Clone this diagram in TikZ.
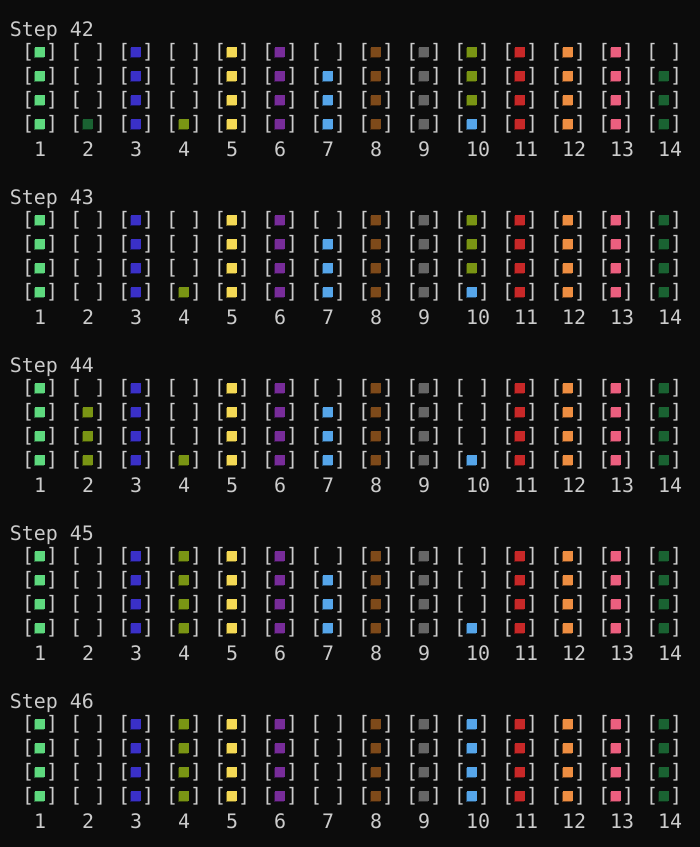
\documentclass[tikz,border=0pt]{standalone}
\usepackage{fontspec}
\newfontfamily\term{DejaVu Sans Mono}
\definecolor{bg}{HTML}{0C0C0C}
\definecolor{fg}{HTML}{CCCCCC}
\definecolor{tG}{HTML}{5ED97E}
\definecolor{tB}{HTML}{3A30C8}
\definecolor{tY}{HTML}{F4D955}
\definecolor{tP}{HTML}{782C9A}
\definecolor{tL}{HTML}{56A6EA}
\definecolor{tN}{HTML}{7E4A1A}
\definecolor{tA}{HTML}{666666}
\definecolor{tO}{HTML}{7A9514}
\definecolor{tR}{HTML}{C82828}
\definecolor{tE}{HTML}{EE8E42}
\definecolor{tK}{HTML}{EC5F7F}
\definecolor{tD}{HTML}{1A6232}
\tikzset{
  txt/.style={text=fg,font=\term\fontsize{14.95pt}{18pt}\selectfont,inner sep=0pt,outer sep=0pt,anchor=base west},
}
\def\xxempty{x}
\newcommand\tuberow[3]{%
  \pgfmathsetmacro\bl{36.5+24*(7*#1+#2)}%
  \foreach \c [count=\i from 0] in {#3} {%
    \node[txt] (L#1-#2-\i) at ({10+12*(1+4*\i)},{\bl-1.7}) {[};
    \node[txt] (R#1-#2-\i) at ({10+12*(3+4*\i)},{\bl-1.7}) {]};
    \edef\tmpc{\c}%
    \ifx\tmpc\xxempty\else
      \fill[t\c!45!black] ({10+12*(2+4*\i)},{\bl-13}) rectangle ++(10,10);
      \fill[t\c] ({11+12*(2+4*\i)},{\bl-14}) rectangle ++(10,10);
    \fi
  }%
}
\newcommand\stepblock[2]{%
  \node[txt] (T#1) at (10,{36.5+24*7*#1}) {Step #2};
  \foreach \n [count=\i from 0] in {1,...,14} {
    \node[txt] (N#1-\i) at ({10+12*(2+4*\i)},{36.5+24*(7*#1+5)}) {\n};
  }
}
\begin{document}
\begin{tikzpicture}[x=0.75pt,y=-0.75pt]
\path[fill=bg] (0,0) rectangle (700,847);
% Step 42
\stepblock{0}{42}
\tuberow{0}{1}{G,x,B,x,Y,P,x,N,A,O,R,E,K,x}
\tuberow{0}{2}{G,x,B,x,Y,P,L,N,A,O,R,E,K,D}
\tuberow{0}{3}{G,x,B,x,Y,P,L,N,A,O,R,E,K,D}
\tuberow{0}{4}{G,D,B,O,Y,P,L,N,A,L,R,E,K,D}
% Step 43
\stepblock{1}{43}
\tuberow{1}{1}{G,x,B,x,Y,P,x,N,A,O,R,E,K,D}
\tuberow{1}{2}{G,x,B,x,Y,P,L,N,A,O,R,E,K,D}
\tuberow{1}{3}{G,x,B,x,Y,P,L,N,A,O,R,E,K,D}
\tuberow{1}{4}{G,x,B,O,Y,P,L,N,A,L,R,E,K,D}
% Step 44
\stepblock{2}{44}
\tuberow{2}{1}{G,x,B,x,Y,P,x,N,A,x,R,E,K,D}
\tuberow{2}{2}{G,O,B,x,Y,P,L,N,A,x,R,E,K,D}
\tuberow{2}{3}{G,O,B,x,Y,P,L,N,A,x,R,E,K,D}
\tuberow{2}{4}{G,O,B,O,Y,P,L,N,A,L,R,E,K,D}
% Step 45
\stepblock{3}{45}
\tuberow{3}{1}{G,x,B,O,Y,P,x,N,A,x,R,E,K,D}
\tuberow{3}{2}{G,x,B,O,Y,P,L,N,A,x,R,E,K,D}
\tuberow{3}{3}{G,x,B,O,Y,P,L,N,A,x,R,E,K,D}
\tuberow{3}{4}{G,x,B,O,Y,P,L,N,A,L,R,E,K,D}
% Step 46
\stepblock{4}{46}
\tuberow{4}{1}{G,x,B,O,Y,P,x,N,A,L,R,E,K,D}
\tuberow{4}{2}{G,x,B,O,Y,P,x,N,A,L,R,E,K,D}
\tuberow{4}{3}{G,x,B,O,Y,P,x,N,A,L,R,E,K,D}
\tuberow{4}{4}{G,x,B,O,Y,P,x,N,A,L,R,E,K,D}
\end{tikzpicture}
\end{document}
